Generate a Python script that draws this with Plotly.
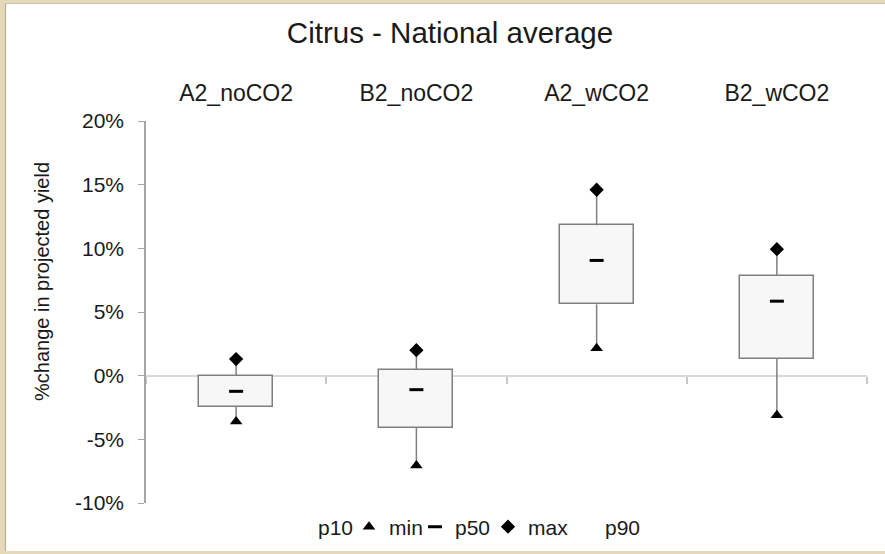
import plotly.graph_objects as go

# ---- data (fractions; axis shows %) ----
categories = ["A2_noCO2", "B2_noCO2", "A2_wCO2", "B2_wCO2"]
p10 = [-0.0245, -0.041, 0.056, 0.0133]
p50 = [-0.0123, -0.011, 0.0905, 0.0585]
p90 = [0.000, 0.0045, 0.118, 0.0785]
vmin = [-0.036, -0.0705, 0.0215, -0.031]
vmax = [0.013, 0.020, 0.146, 0.0993]
y_ticks = [-0.10, -0.05, 0.0, 0.05, 0.10, 0.15, 0.20]
y_ticktext = [f"{round(v * 100)}%" for v in y_ticks]

FONT = "Liberation Sans, Arial, sans-serif"
INK = "#1a1a1a"
CLEAR = "rgba(0,0,0,0)"

fig = go.Figure()

# boxes p10..p90
fig.add_trace(go.Bar(
    x=categories, y=[h - l for h, l in zip(p90, p10)], base=p10,
    width=0.41, marker=dict(color="#f7f7f7", line=dict(color="#7f7f7f", width=1.5)),
    showlegend=False, hoverinfo="skip"))

# whiskers
wx, wy = [], []
for c, lo, mn, hi, mx in zip(categories, p10, vmin, p90, vmax):
    wx += [c, c, None, c, c, None]
    wy += [lo, mn, None, hi, mx, None]
fig.add_trace(go.Scatter(x=wx, y=wy, mode="lines", line=dict(color="#7f7f7f", width=1.5),
                         showlegend=False, hoverinfo="skip"))

# legend / markers (each entry in its own legend for Excel-like spacing)
fig.add_trace(go.Scatter(x=categories, y=p10, mode="markers", name="p10", legend="legend",
                         marker=dict(color=CLEAR, size=8, line=dict(width=0))))
fig.add_trace(go.Scatter(x=categories, y=vmin, mode="markers", name="min", legend="legend2",
                         marker=dict(symbol="triangle-up", color="black", size=11)))
fig.add_trace(go.Scatter(x=categories, y=p50, mode="markers", name="p50", legend="legend3",
                         marker=dict(symbol="line-ew", size=10, line=dict(color="black", width=3))))
fig.add_trace(go.Scatter(x=categories, y=vmax, mode="markers", name="max", legend="legend4",
                         marker=dict(symbol="diamond", color="black", size=11)))
fig.add_trace(go.Scatter(x=categories, y=p90, mode="markers", name="p90", legend="legend5",
                         marker=dict(color=CLEAR, size=8, line=dict(width=0))))

# invisible trace for the top category-label axis
fig.add_trace(go.Scatter(x=categories, y=p50, xaxis="x2", mode="markers",
                         marker=dict(color=CLEAR), showlegend=False, hoverinfo="skip"))

# page frame (paper coords relative to plot area: l=146, plot width 721, t=121, plot height 382)
def px_x(px):
    return (px - 146) / 721.0

def px_y(py):
    return 1 - (py - 121) / 382.0

shapes = [
    dict(type="rect", xref="paper", yref="paper", x0=px_x(6), x1=px_x(890),
         y0=px_y(551), y1=px_y(4), fillcolor="white", line=dict(width=0), layer="below"),
    dict(type="line", xref="paper", yref="paper", x0=px_x(5.5), x1=px_x(5.5),
         y0=px_y(551), y1=px_y(3.5), line=dict(color="#b5ad98", width=1.2), layer="below"),
    dict(type="line", xref="paper", yref="paper", x0=px_x(5.5), x1=px_x(890),
         y0=px_y(3.5), y1=px_y(3.5), line=dict(color="#c9c3b3", width=1.2), layer="below"),
]

legend_common = dict(orientation="h", y=px_y(527), yanchor="middle", xanchor="left",
                     font=dict(size=21, family=FONT, color=INK), bgcolor=CLEAR,
                     itemwidth=30, traceorder="normal")

fig.update_layout(
    width=885, height=554,
    margin=dict(l=146, r=18, t=121, b=51, autoexpand=False),
    paper_bgcolor="#e6d9b9",
    plot_bgcolor=CLEAR,
    font=dict(family=FONT, color=INK),
    title=dict(text="Citrus - National average", x=450 / 885, xanchor="center",
               y=1 - 33 / 554, yanchor="middle", yref="container",
               font=dict(size=29.5, family=FONT, color=INK)),
    bargap=0,
    shapes=shapes,
    showlegend=True,
    legend=dict(x=px_x(278), **legend_common),
    legend2=dict(x=px_x(349), **legend_common),
    legend3=dict(x=px_x(415), **legend_common),
    legend4=dict(x=px_x(488), **legend_common),
    legend5=dict(x=px_x(565), **legend_common),
    xaxis=dict(type="category", categoryorder="array", categoryarray=categories,
               range=[-0.5, 3.5], anchor="free", position=1 / 3,
               showline=True, linecolor="#d9d9d9", linewidth=2,
               ticks="outside", tickson="boundaries", ticklen=7, tickcolor="#c8c8c8",
               tickwidth=1.5, showticklabels=False, showgrid=False, zeroline=False,
               layer="below traces"),
    xaxis2=dict(type="category", categoryorder="array", categoryarray=categories,
                range=[-0.5, 3.5], overlaying="x", side="top", anchor="y",
                showline=False, ticks="", showgrid=False, zeroline=False,
                ticklabelstandoff=14,
                tickfont=dict(size=23, family=FONT, color=INK)),
    yaxis=dict(range=[-0.10, 0.20], tickvals=y_ticks, ticktext=y_ticktext,
               showline=True, linecolor="#a6a6a6", linewidth=1.5,
               ticks="outside", ticklen=6, tickcolor="#a6a6a6",
               showgrid=False, zeroline=False, ticklabelstandoff=10,
               tickfont=dict(size=21, family=FONT, color=INK)),
    annotations=[dict(text="%change in projected yield", xref="paper", yref="paper",
                      x=px_x(42), y=px_y(282), textangle=-90, showarrow=False,
                      xanchor="center", yanchor="middle",
                      font=dict(size=20, family=FONT, color=INK))],
)

fig.write_html("out.html")
